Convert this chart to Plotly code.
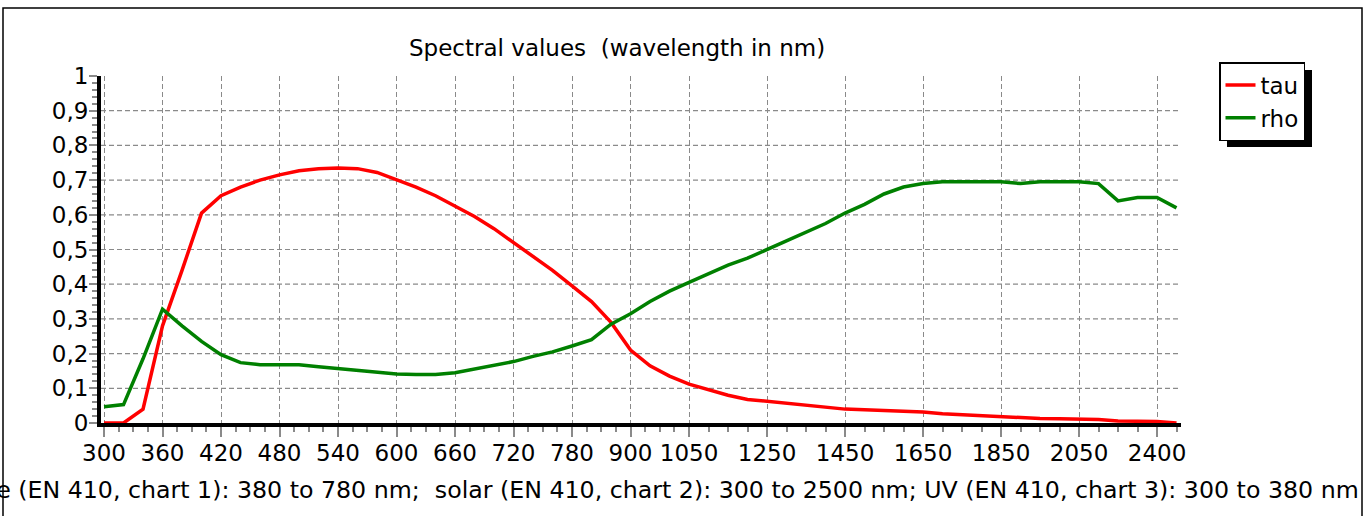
import plotly.graph_objects as go

# ---- data -------------------------------------------------------------
wavelengths = [300, 320, 340, 360, 380, 400, 420, 440, 460, 480, 500, 520, 540, 560,
               580, 600, 620, 640, 660, 680, 700, 720, 740, 760, 780, 800, 850, 900,
               950, 1000, 1050, 1100, 1150, 1200, 1250, 1300, 1350, 1400, 1450, 1500,
               1550, 1600, 1650, 1700, 1750, 1800, 1850, 1900, 1950, 2000, 2050, 2100,
               2200, 2300, 2400, 2500]

tau = [0.0, 0.0, 0.04, 0.28, 0.44, 0.605, 0.655, 0.68, 0.70, 0.715, 0.727, 0.733,
       0.735, 0.733, 0.722, 0.700, 0.680, 0.655, 0.625, 0.595, 0.56, 0.52, 0.48,
       0.44, 0.395, 0.35, 0.29, 0.21, 0.165, 0.135, 0.112, 0.095, 0.08, 0.068,
       0.062, 0.057, 0.050, 0.045, 0.040, 0.038, 0.036, 0.035, 0.032, 0.027, 0.024,
       0.022, 0.018, 0.016, 0.013, 0.012, 0.011, 0.010, 0.006, 0.005, 0.004, 0.0]

rho = [0.047, 0.053, 0.185, 0.328, 0.28, 0.235, 0.197, 0.174, 0.168, 0.168, 0.168,
       0.162, 0.157, 0.152, 0.147, 0.141, 0.140, 0.140, 0.145, 0.155, 0.166, 0.177,
       0.192, 0.205, 0.222, 0.24, 0.285, 0.315, 0.35, 0.38, 0.405, 0.43, 0.455,
       0.475, 0.50, 0.525, 0.55, 0.575, 0.605, 0.63, 0.66, 0.68, 0.69, 0.695, 0.695,
       0.695, 0.695, 0.69, 0.695, 0.695, 0.695, 0.69, 0.64, 0.65, 0.65, 0.62]

tick_labels = [300, 360, 420, 480, 540, 600, 660, 720, 780, 900, 1050, 1250, 1450,
               1650, 1850, 2050, 2400]
y_ticks = [0, 0.1, 0.2, 0.3, 0.4, 0.5, 0.6, 0.7, 0.8, 0.9, 1]

title_text = "Spectral values\u00a0 (wavelength in nm)"
caption_text = ("visible (EN 410, chart 1): 380 to 780 nm;\u00a0 solar (EN 410, chart 2): "
                "300 to 2500 nm; UV (EN 410, chart 3): 300 to 380 nm")

# ---- geometry ---------------------------------------------------------
W, H = 1370, 516
L, R, T, B = 101, 1181, 76, 423
FONT = "DejaVu Sans"
FS = 23

idx = list(range(len(wavelengths)))
major_idx = [wavelengths.index(w) for w in tick_labels]
minor_idx = []
for a, b in zip(major_idx[:-1], major_idx[1:]):
    for k in range(1, 4):
        minor_idx.append(a + (b - a) * k / 4)
minor_idx.append(major_idx[-1] + 1)


def px(x):
    return (x - L) / (R - L)


def py(y):
    return (B - y) / (B - T)


fig = go.Figure()
fig.add_trace(go.Scatter(x=idx, y=tau, mode="lines", name="tau",
                         line=dict(color="#ff0000", width=3.5)))
fig.add_trace(go.Scatter(x=idx, y=rho, mode="lines", name="rho",
                         line=dict(color="#008000", width=3.5)))

grid_color = "#8a8a8a"
fig.update_xaxes(
    range=[-0.155, 55.23],
    tickmode="array", tickvals=major_idx, ticktext=[str(w) for w in tick_labels],
    ticks="outside", ticklen=10, tickwidth=1.5, tickcolor=grid_color,
    ticklabelstandoff=-4,
    showgrid=True, gridcolor=grid_color, gridwidth=1.2, griddash="5px,3px",
    showline=True, linecolor="black", linewidth=4,
    zeroline=False,
    tickfont=dict(family=FONT, size=FS, color="black"),
    minor=dict(tickvals=minor_idx, ticks="outside", ticklen=5, tickwidth=1.5,
               tickcolor=grid_color, showgrid=False),
)
fig.update_yaxes(
    range=[0, 1],
    tickmode="array", tickvals=y_ticks,
    ticktext=[("%g" % v).replace(".", ",") for v in y_ticks],
    ticks="outside", ticklen=8, tickwidth=1.5, tickcolor=grid_color,
    ticklabelstandoff=-4,
    showgrid=False,
    showline=True, linecolor="black", linewidth=4,
    zeroline=False,
    tickfont=dict(family=FONT, size=FS, color="black"),
    minor=dict(dtick=0.02, tick0=0, ticks="outside", ticklen=5, tickwidth=1.5,
               tickcolor=grid_color, showgrid=False),
)

shapes = []
# horizontal dashed grid (0.1 .. 0.9)
for v in y_ticks[1:-1]:
    shapes.append(dict(type="line", xref="paper", yref="y", x0=0, x1=1, y0=v, y1=v,
                       line=dict(color=grid_color, width=1.2, dash="5px,3px"),
                       layer="below"))
# outer frame
shapes.append(dict(type="rect", xref="paper", yref="paper",
                   x0=px(3), x1=px(1362), y0=py(530), y1=py(8),
                   line=dict(color="black", width=1.5), fillcolor="rgba(0,0,0,0)",
                   layer="below"))
# legend shadow
shapes.append(dict(type="rect", xref="paper", yref="paper",
                   x0=px(1227), x1=px(1312), y0=py(147), y1=py(70),
                   line=dict(width=0), fillcolor="black", layer="above"))

annotations = [
    dict(text=title_text, xref="paper", yref="paper", x=px(617), y=py(48),
         xanchor="center", yanchor="middle", showarrow=False,
         font=dict(family=FONT, size=FS, color="black")),
    dict(text=caption_text, xref="paper", yref="paper", x=px(1361), y=py(490),
         xanchor="right", yanchor="middle", showarrow=False,
         font=dict(family=FONT, size=23.7, color="black")),
]

fig.update_layout(
    width=W, height=H,
    margin=dict(l=L, r=W - R, t=T, b=H - B, pad=0),
    paper_bgcolor="white", plot_bgcolor="white",
    showlegend=True,
    legend=dict(x=px(1219), y=py(62), xanchor="left", yanchor="top",
                bgcolor="white", bordercolor="black", borderwidth=1.5,
                font=dict(family=FONT, size=FS, color="black"),
                itemwidth=30, tracegroupgap=0),
    shapes=shapes,
    annotations=annotations,
    font=dict(family=FONT, color="black"),
)

fig.write_html("out.html",
               config={"displayModeBar": False},
               post_script="document.body.style.margin='0';"
                           "document.body.style.overflow='hidden';")
